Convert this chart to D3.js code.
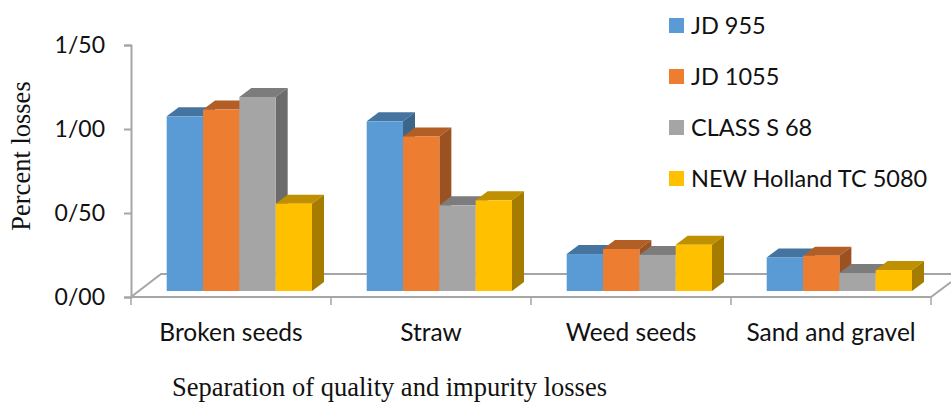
<!DOCTYPE html>
<html>
    <head>
        <meta charset="UTF-8"/>
        <style>
            html, body { margin: 0; padding: 0; background: #fff; }
            svg { display: block; }
        </style>
    </head>
    <body>
        <script src="https://d3js.org/d3.v7.min.js" type="text/javascript"></script>
        <script>
        let categories = ["Broken seeds", "Straw", "Weed seeds", "Sand and gravel"];
        let seriesNames = ["JD 955", "JD 1055", "CLASS S 68", "NEW Holland TC 5080"];
        let jd955 = [1.04, 1.01, 0.22, 0.20];
        let jd1055 = [1.08, 0.92, 0.25, 0.21];
        let classS68 = [1.155, 0.51, 0.215, 0.107];
        let newHolland = [0.52, 0.54, 0.275, 0.125];
        let seriesValues = [jd955, jd1055, classS68, newHolland];
        let tickValues = [0, 0.5, 1, 1.5];
        let tickLabels = ["0/00", "0/50", "1/00", "1/50"];

        let frontColors = ["#5b9bd5", "#ed7d31", "#a5a5a5", "#ffc000"];
        let topColors = ["#44749f", "#b25e25", "#7c7c7c", "#bf9000"];
        let sideColors = ["#3c6689", "#9c5120", "#6b6b6b", "#a67c00"];
        let lineColor = "#a6a6a6";
        let sansFont = "Lato, sans-serif";
        let serifFont = "'Liberation Serif', serif";

        let width = 951;
        let height = 402;
        // depth of the fake 3d floor and of each bar
        let floorDx = 30, floorDy = -23;
        let barDx = 12, barDy = -9;
        let barLift = 6;

        let svg = d3.select("body")
            .append("svg")
            .attr("width", width)
            .attr("height", height);

        let x = d3.scaleBand()
            .domain(categories)
            .range([131, 931]);
        let xInner = d3.scaleBand()
            .domain(seriesNames)
            .range([35.7, 181]);
        let y = d3.scaleLinear()
            .domain([0, 1.5])
            .range([297, 45]);

        // floor outline
        let x0 = x.range()[0], x1 = x.range()[1], y0 = y(0);
        svg.append("path")
            .attr("d", d3.line()([
                [x1 + floorDx, y0 + floorDy],
                [x0 + floorDx, y0 + floorDy],
                [x0, y0],
                [x1, y0],
                [x1 + 20, y0 - 15]
            ]))
            .attr("fill", "none")
            .attr("stroke", lineColor)
            .attr("stroke-width", 2);

        // axes
        let yAxis = svg.append("g")
            .attr("transform", "translate(131,0)")
            .call(d3.axisLeft(y)
                .tickValues(tickValues)
                .tickSize(7)
                .tickPadding(19)
                .tickFormat(function(d, i) { return tickLabels[i]; }));
        let xAxis = svg.append("g")
            .attr("transform", "translate(0,297)")
            .call(d3.axisBottom(x).tickSize(0).tickPadding(26.5));
        svg.append("g")
            .attr("transform", "translate(0,297)")
            .selectAll("line")
            .data(d3.range(categories.length + 1))
            .enter()
            .append("line")
            .attr("x1", function(i) { return x0 + i * x.step(); })
            .attr("x2", function(i) { return x0 + i * x.step(); })
            .attr("y2", 8)
            .attr("stroke", lineColor)
            .attr("stroke-width", 1.5);
        yAxis.selectAll("line, path").attr("stroke", lineColor).attr("stroke-width", 2);
        xAxis.select(".domain").remove();
        xAxis.selectAll("text").attr("font-family", sansFont).attr("font-size", 24.5).attr("fill", "#111");
        yAxis.selectAll("text").attr("font-family", sansFont).attr("font-size", 23).attr("fill", "#111");

        // bars, left to right so that each one hides the side of the previous
        categories.forEach(function(cat, c) {
            seriesNames.forEach(function(name, s) {
                let v = seriesValues[s][c];
                let left = x(cat) + xInner(name);
                let right = left + xInner.bandwidth();
                let top = y(v) - barLift;
                let bottom = y(0) - barLift;
                let g = svg.append("g").attr("class", "bar");
                g.append("path")
                    .attr("d", d3.line()([[left, top], [left + barDx, top + barDy], [right + barDx, top + barDy], [right, top]]) + "Z")
                    .attr("fill", topColors[s]);
                g.append("path")
                    .attr("d", d3.line()([[right, top], [right + barDx, top + barDy], [right + barDx, bottom + barDy], [right, bottom]]) + "Z")
                    .attr("fill", sideColors[s]);
                g.append("rect")
                    .attr("x", left)
                    .attr("y", top)
                    .attr("width", xInner.bandwidth())
                    .attr("height", bottom - top)
                    .attr("fill", frontColors[s]);
            });
        });

        // legend
        let legend = svg.selectAll(".legend")
            .data(seriesNames)
            .enter()
            .append("g")
            .attr("class", "legend")
            .attr("transform", function(d, i) { return "translate(669," + (18 + i * 51) + ")"; });
        legend.append("rect")
            .attr("width", 15)
            .attr("height", 15)
            .attr("fill", function(d, i) { return frontColors[i]; });
        legend.append("text")
            .attr("x", 22)
            .attr("y", 16)
            .attr("font-family", sansFont)
            .attr("font-size", 23.5)
            .attr("fill", "#111")
            .text(function(d) { return d; });

        // axis titles
        svg.append("text")
            .attr("transform", "translate(30,156)rotate(-90)")
            .attr("text-anchor", "middle")
            .attr("font-family", serifFont)
            .attr("font-size", 26.5)
            .attr("fill", "#111")
            .text("Percent losses");
        svg.append("text")
            .attr("x", 172)
            .attr("y", 396)
            .attr("font-family", serifFont)
            .attr("font-size", 26.5)
            .attr("fill", "#111")
            .text("Separation of quality and impurity losses");
        </script>
    </body>
</html>
